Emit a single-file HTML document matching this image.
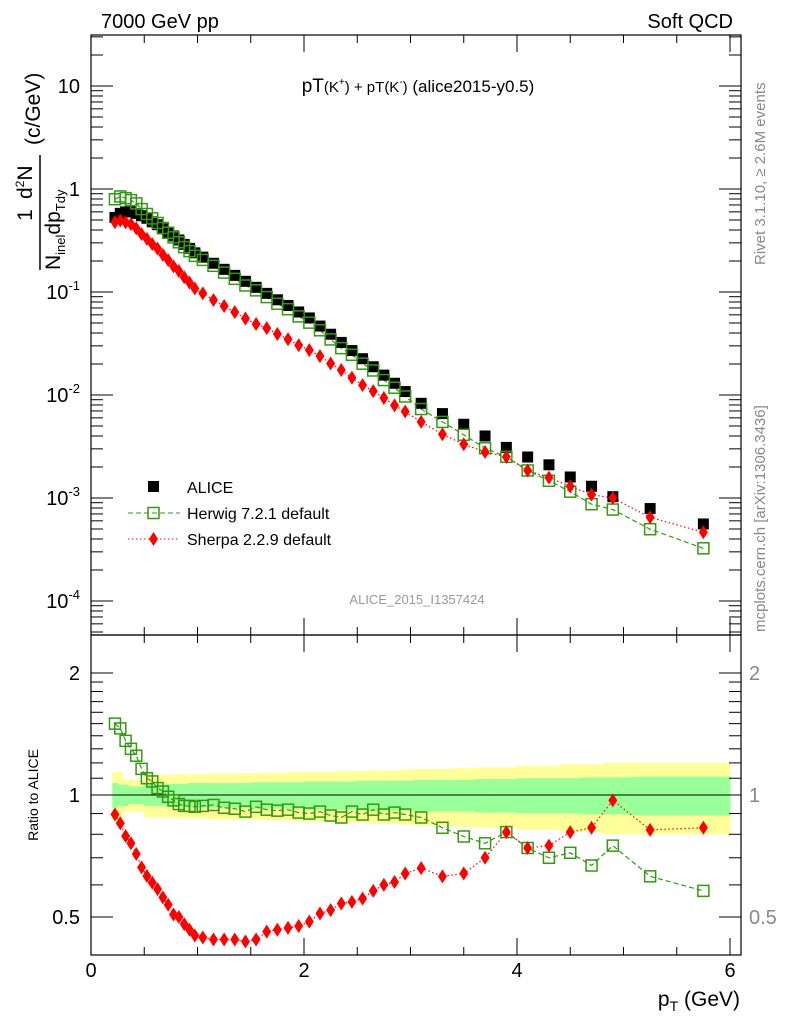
<!DOCTYPE html>
<html><head><meta charset="utf-8"><style>
html,body{margin:0;padding:0;background:#fff}
svg{display:block;font-family:"Liberation Sans",sans-serif}
</style></head><body>
<svg id="c" width="786" height="1024" viewBox="0 0 786 1024" xmlns="http://www.w3.org/2000/svg">
<g id="bands"></g>
<g id="axes"></g>
<g id="marks"></g>
<text x="101" y="28" font-size="20">7000 GeV pp</text>
<text x="733" y="28" font-size="20" text-anchor="end">Soft QCD</text>
<text x="418" y="92" font-size="19" text-anchor="middle">pT<tspan font-size="15">(K<tspan dy="-7" font-size="10">+</tspan><tspan dy="7">) + pT(K</tspan><tspan dy="-7" font-size="10">-</tspan><tspan dy="7">)</tspan></tspan><tspan font-size="17"> (alice2015-y0.5)</tspan></text>
<text x="417" y="604" font-size="13" fill="#999" text-anchor="middle">ALICE_2015_I1357424</text>
<g transform="translate(765,265) rotate(-90)"><text x="0" y="0" font-size="15" fill="#888">Rivet 3.1.10, ≥ 2.6M events</text></g>
<g transform="translate(765,632) rotate(-90)"><text x="0" y="0" font-size="15" fill="#888">mcplots.cern.ch [arXiv:1306.3436]</text></g>
<g transform="translate(40,215) rotate(-90)">
<text x="0" y="-8" font-size="21" text-anchor="middle">1</text>
<text x="3" y="-8" font-size="21" text-anchor="start" dx="13">d<tspan dy="-8" font-size="12">2</tspan><tspan dy="8">N</tspan></text>
<line x1="-55" y1="0" x2="60" y2="0" stroke="#000" stroke-width="1.5"/>
<text x="-55" y="20" font-size="21">N<tspan font-size="13" dy="5">inel</tspan><tspan dy="-5">dp</tspan><tspan font-size="13" dy="5">Tdy</tspan></text>
<text x="70" y="0" font-size="21">(c/GeV)</text>
</g>
<g transform="translate(38,795) rotate(-90)"><text x="0" y="0" font-size="14" text-anchor="middle">Ratio to ALICE</text></g>
<text x="740" y="1006" font-size="21" text-anchor="end">p<tspan font-size="14" dy="5">T</tspan><tspan dy="-5"> (GeV)</tspan></text>
<g>
<rect x="148" y="481" width="11" height="11" fill="#000"/>
<text x="187" y="493" font-size="16">ALICE</text>
<line x1="128" y1="513" x2="180" y2="513" stroke="#339911" stroke-dasharray="5,3"/>
<rect x="148" y="507.5" width="11" height="11" fill="none" stroke="#339911" stroke-width="1.5"/>
<text x="187" y="519" font-size="16">Herwig 7.2.1 default</text>
<line x1="128" y1="539" x2="180" y2="539" stroke="#f00" stroke-dasharray="1.5,2.5"/>
<polygon points="153.5,532 158,539 153.5,546 149,539" fill="#f00"/>
<text x="187" y="545" font-size="16">Sherpa 2.2.9 default</text>
</g>
</svg>
<script>
const pt=[0.225,0.275,0.325,0.375,0.425,0.475,0.525,0.575,0.625,0.675,0.725,0.775,0.825,0.875,0.925,0.975,
1.05,1.15,1.25,1.35,1.45,1.55,1.65,1.75,1.85,1.95,2.05,2.15,2.25,2.35,2.45,2.55,2.65,2.75,2.85,2.95,
3.1,3.3,3.5,3.7,3.9,4.1,4.3,4.5,4.7,4.9,5.25,5.75];
const alice=[0.53,0.58,0.60,0.60,0.58,0.55,0.52,0.48,0.45,0.41,0.38,0.35,0.32,0.29,0.265,0.24,
0.218,0.190,0.166,0.145,0.127,0.111,0.097,0.084,0.074,0.064,0.056,0.0467,0.0389,0.0324,0.027,0.0225,0.0188,0.0156,0.013,0.0108,
0.0083,0.0066,0.0052,0.0040,0.0031,0.0025,0.0021,0.0016,0.0013,0.00103,0.00079,0.00056];
const herwigRatio=[1.50,1.46,1.36,1.30,1.25,1.16,1.10,1.08,1.04,1.02,0.99,0.97,0.95,0.94,0.94,0.935,
0.94,0.945,0.93,0.925,0.91,0.935,0.92,0.915,0.92,0.905,0.90,0.91,0.89,0.88,0.91,0.895,0.92,0.895,0.905,0.895,
0.88,0.83,0.79,0.76,0.81,0.74,0.70,0.72,0.67,0.75,0.63,0.58];
const sherpaRatio=[0.896,0.852,0.792,0.760,0.715,0.663,0.631,0.608,0.586,0.559,0.536,0.507,0.50,0.48,0.465,0.45,
0.445,0.44,0.44,0.44,0.435,0.44,0.46,0.465,0.47,0.475,0.487,0.51,0.52,0.54,0.545,0.555,0.58,0.60,0.61,0.64,
0.66,0.63,0.64,0.70,0.81,0.74,0.75,0.81,0.83,0.97,0.82,0.83];
const statErr=[0.07,0.06,0.06,0.05,0.05,0.05,0.06,0.06,0.06,0.06,0.065,0.065,0.065,0.065,0.07,0.07,
0.07,0.07,0.07,0.07,0.07,0.075,0.075,0.075,0.075,0.075,0.08,0.08,0.08,0.08,0.08,0.085,0.085,0.085,0.085,0.085,
0.09,0.09,0.09,0.095,0.095,0.1,0.1,0.1,0.105,0.105,0.11,0.11];
const totErr=[0.14,0.14,0.09,0.09,0.09,0.09,0.12,0.12,0.12,0.12,0.12,0.12,0.125,0.125,0.125,0.125,
0.125,0.13,0.13,0.13,0.13,0.13,0.135,0.135,0.135,0.14,0.14,0.14,0.14,0.145,0.145,0.145,0.15,0.15,0.15,0.155,
0.16,0.16,0.165,0.17,0.17,0.18,0.18,0.19,0.19,0.2,0.2,0.2];
const xTicks=[0,2,4,6];

const NS="http://www.w3.org/2000/svg";
const X0=91,X1=741,T=35,MID=635,B=955;
const sx=v=>X0+v*106.5;
const sy=v=>189-103*Math.log10(v);
const sr=v=>795-122*Math.log2(v);
function mk(tag,attrs,parent){const e=document.createElementNS(NS,tag);for(const k in attrs)e.setAttribute(k,attrs[k]);parent.appendChild(e);return e;}
const axes=document.getElementById('axes'),marks=document.getElementById('marks'),bands=document.getElementById('bands');

// bands
const edges=[0.2];
for(let i=0;i<pt.length-1;i++)edges.push((pt[i]+pt[i+1])/2);
edges.push(6.0);
for(let i=0;i<pt.length;i++){
  const r=mk('rect',{x:sx(edges[i]),width:sx(edges[i+1])-sx(edges[i])+0.5,y:sr(1+totErr[i]),height:sr(1-totErr[i])-sr(1+totErr[i]),fill:'#ffff99'},bands);
  
  
}
for(let i=0;i<pt.length;i++){
  const r=mk('rect',{x:sx(edges[i]),width:sx(edges[i+1])-sx(edges[i])+0.5,y:sr(1+statErr[i]),height:sr(1-statErr[i])-sr(1+statErr[i]),fill:'#99ff99'},bands);
  
  
}

// frames
let f=mk('rect',{x:X0,y:T,width:X1-X0,height:MID-T,fill:'none',stroke:'#000','stroke-width':1.2},axes);

f=mk('rect',{x:X0,y:MID,width:X1-X0,height:B-MID,fill:'none',stroke:'#000','stroke-width':1.2},axes);

let ln=mk('line',{x1:X0,x2:X1,y1:sr(1),y2:sr(1),stroke:'#000','stroke-width':1},axes);


// x ticks
for(let v=0;v<=6.01;v+=0.5){
  const maj=Math.abs(v-Math.round(v/2)*2)<1e-6,L=maj?17:8,x=sx(v);
  [T,MID].forEach(y0=>{const t=mk('line',{x1:x,x2:x,y1:y0,y2:y0+L,stroke:'#000'},axes);});
  [MID,B].forEach(y0=>{const t=mk('line',{x1:x,x2:x,y1:y0,y2:y0-L,stroke:'#000'},axes);});
}
xTicks.forEach(v=>{const t=mk('text',{x:sx(v),y:977,'font-size':20,'text-anchor':'middle'},axes);t.textContent=v;});

// main y ticks
for(let d=-5;d<=1;d++){for(let m=1;m<=9;m++){const v=m*Math.pow(10,d),y=sy(v);if(y<T||y>MID)continue;const L=m==1?22:12;
  [[X0,X0+L],[X1,X1-L]].forEach(p=>{const t=mk('line',{x1:p[0],x2:p[1],y1:y,y2:y,stroke:'#000'},axes);});}}
[[10,'10'],[1,'1']].forEach(p=>{const t=mk('text',{x:80,y:sy(p[0])+7,'font-size':20,'text-anchor':'end'},axes);t.textContent=p[1];});
[-1,-2,-3,-4].forEach(e=>{const t=mk('text',{x:80,y:sy(Math.pow(10,e))+7,'font-size':20,'text-anchor':'end'},axes);t.innerHTML='10<tspan dy="-9" font-size="13">'+e+'</tspan>';});

// ratio y ticks
[0.5,0.6,0.7,0.8,0.9,1,1.1,1.2,1.3,1.4,1.5,1.6,1.7,1.8,1.9,2].forEach(v=>{const y=sr(v),maj=(v==0.5||v==1||v==2),L=maj?22:12;
  [[X0,X0+L],[X1,X1-L]].forEach(p=>{const t=mk('line',{x1:p[0],x2:p[1],y1:y,y2:y,stroke:'#000'},axes);});});
[[0.5,'0.5'],[1,'1'],[2,'2']].forEach(p=>{
  let t=mk('text',{x:80,y:sr(p[0])+7,'font-size':20,'text-anchor':'end'},axes);t.textContent=p[1];
  t=mk('text',{x:749,y:sr(p[0])+7,'font-size':20,'fill':'#888'},axes);t.textContent=p[1];});

// series
const herwig=alice.map((a,i)=>a*herwigRatio[i]);
const sherpa=alice.map((a,i)=>a*sherpaRatio[i]);
function line(vals,f,color,dash,name){const p=mk('polyline',{points:vals.map((v,i)=>sx(pt[i])+','+f(v)).join(' '),fill:'none',stroke:color,'stroke-dasharray':dash,'stroke-width':1.2},marks);}
line(herwig,sy,'#339911','5,3','herwig-line');
line(sherpa,sy,'#f00','1.5,2.5','sherpa-line');
line(herwigRatio,sr,'#339911','5,3','herwig-ratio-line');
line(sherpaRatio,sr,'#f00','1.5,2.5','sherpa-ratio-line');
alice.forEach((v,i)=>{const r=mk('rect',{x:sx(pt[i])-5.5,y:sy(v)-5.5,width:11,height:11,fill:'#000'},marks);});
function sq(x,y){const r=mk('rect',{x:x-5.5,y:y-5.5,width:11,height:11,fill:'none',stroke:'#339911','stroke-width':1.5},marks);}
function dm(x,y){const p=mk('polygon',{points:`${x},${y-7} ${x+4.5},${y} ${x},${y+7} ${x-4.5},${y}`,fill:'#f00'},marks);}
herwig.forEach((v,i)=>sq(sx(pt[i]),sy(v)));
sherpa.forEach((v,i)=>dm(sx(pt[i]),sy(v)));
herwigRatio.forEach((v,i)=>sq(sx(pt[i]),sr(v)));
sherpaRatio.forEach((v,i)=>dm(sx(pt[i]),sr(v)));
</script>
</body></html>
